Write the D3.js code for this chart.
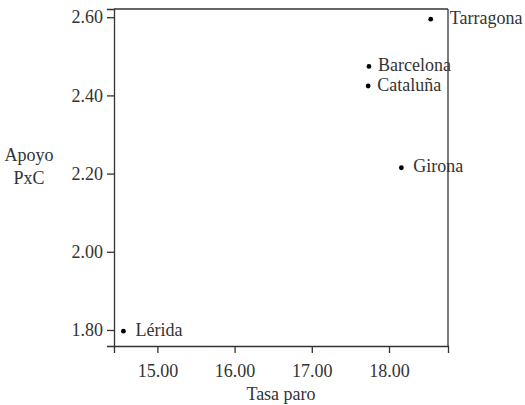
<!DOCTYPE html>
<html>
<head>
<meta charset="utf-8">
<script src="https://cdn.jsdelivr.net/npm/d3@7"></script>
<style>
  body { margin: 0; background: #fff; }
  svg text { font-family: "Liberation Serif"; }
</style>
</head>
<body>
<svg id="chart" width="525" height="405" font-family="Liberation Serif"></svg>
<script>
// data
var names = ["Tarragona", "Barcelona", "Cataluña", "Girona", "Lérida"];
var tasaParo = [18.54, 17.74, 17.73, 18.16, 14.56];
var apoyoPxC = [2.595, 2.474, 2.424, 2.215, 1.797];
var xTicks = [15, 16, 17, 18];
var yTicks = [1.8, 2.0, 2.2, 2.4, 2.6];

var INK = "#333";

var margin = { top: 9, right: 77, bottom: 59, left: 114 },
  w = 525 - margin.left - margin.right,
  h = 405 - margin.top - margin.bottom;

var svg = d3.select("#chart");
var g = svg.append("g").attr("transform", `translate(${margin.left}, ${margin.top})`);

var x_scale = d3.scaleLinear().domain([14.438, 18.764]).range([0, w]);
var y_scale = d3.scaleLinear().domain([1.759, 2.621]).range([h, 0]);
var fmt = d3.format(".2f");

// Add X axis
var xAxis = g.append("g").attr("transform", `translate(0, ${h})`)
  .call(d3.axisBottom(x_scale).tickValues(xTicks).tickFormat(fmt).tickSize(7).tickPadding(11));

// Add Y axis
var yAxis = g.append("g")
  .call(d3.axisLeft(y_scale).tickValues(yTicks).tickFormat(fmt).tickSize(7).tickPadding(4));

[xAxis, yAxis].forEach(function (a) {
  a.attr("font-family", "Liberation Serif").attr("font-size", 18);
  a.selectAll("path, line").attr("stroke", INK).attr("stroke-width", 1.3);
  a.selectAll("text").attr("fill", INK);
});

// top and right edges of the box
g.append("line").attr("x1", 0).attr("x2", w).attr("y1", 0).attr("y2", 0)
  .attr("stroke", INK).attr("stroke-width", 1.3);
g.append("line").attr("x1", w).attr("x2", w).attr("y1", 0).attr("y2", h)
  .attr("stroke", INK).attr("stroke-width", 1.3);

var points = names.map(function (n, i) { return { name: n, x: tasaParo[i], y: apoyoPxC[i] }; });
var labelDx = { "Tarragona": 19, "Girona": 12, "Lérida": 12 };

g.selectAll("circle")
  .data(points)
  .join("circle")
  .attr("cx", function (d) { return x_scale(d.x); })
  .attr("cy", function (d) { return y_scale(d.y); })
  .attr("r", 2.4)
  .style("fill", "#000");

g.selectAll(".lbl")
  .data(points)
  .join("text")
  .attr("class", "lbl")
  .attr("x", function (d) { return x_scale(d.x) + (labelDx[d.name] || 9); })
  .attr("y", function (d) { return y_scale(d.y); })
  .attr("dy", "0.26em")
  .attr("font-size", 18).attr("fill", INK)
  .text(function (d) { return d.name; });

// x axis label
g.append("text")
  .attr("x", w / 2)
  .attr("y", h + 54)
  .attr("text-anchor", "middle")
  .attr("font-size", 18).attr("fill", INK)
  .text("Tasa paro");

// y axis title, two lines
var yt = svg.append("text")
  .attr("x", 29)
  .attr("y", 161)
  .attr("text-anchor", "middle")
  .attr("font-size", 18).attr("fill", INK);
yt.append("tspan").attr("x", 29).attr("dy", 0).text("Apoyo");
yt.append("tspan").attr("x", 29).attr("dy", 23).text("PxC");
</script>
</body>
</html>
